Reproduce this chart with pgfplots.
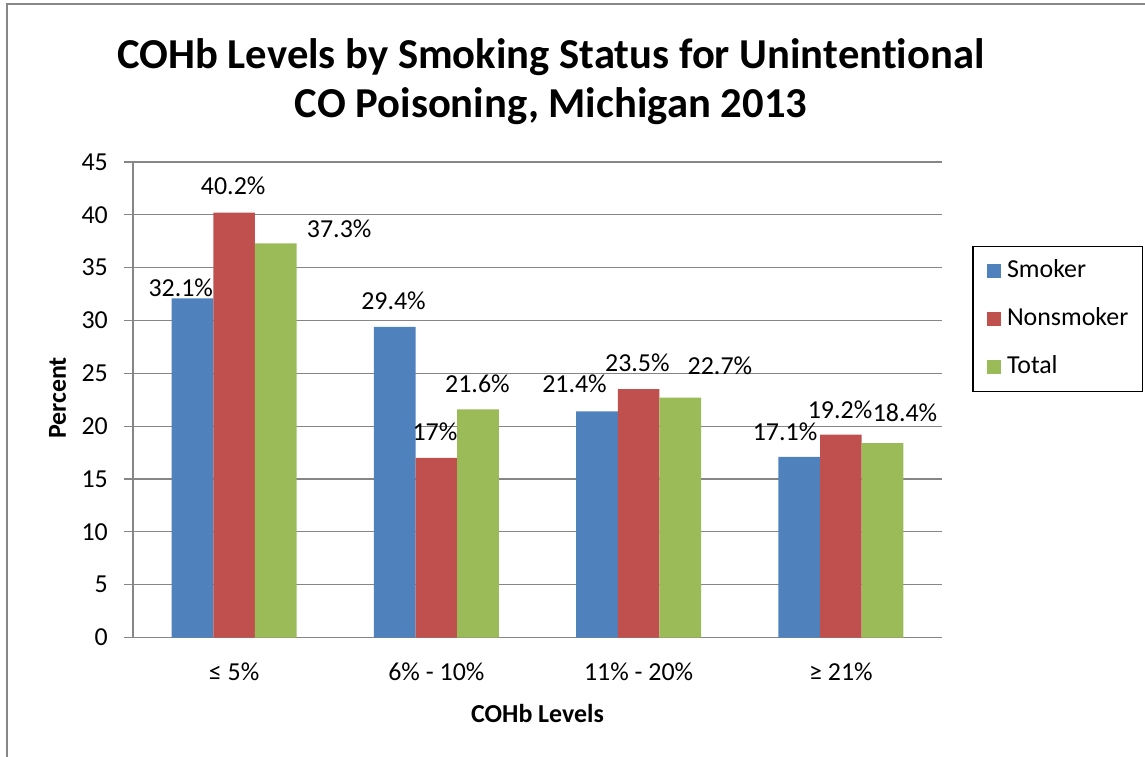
\documentclass[border=0pt]{standalone}
\usepackage{pgfplots}
\pgfplotsset{compat=1.18}
\usepackage{fontspec}
\setmainfont[Ligatures=NoCommon]{Carlito}
\definecolor{cblue}{HTML}{4F81BD}
\definecolor{cred}{HTML}{C0504D}
\definecolor{cgreen}{HTML}{9BBB59}
\definecolor{cgrid}{HTML}{868686}
\definecolor{cframe}{HTML}{878787}
\newcommand{\lbl}{\fontsize{26}{30}\selectfont}
\begin{document}
\begin{tikzpicture}
\useasboundingbox (0,0) rectangle (1145bp,-757bp);
\draw[cframe, line width=2bp] (7bp,-770bp) -- (7bp,-4bp) -- (1160bp,-4bp);
\node[font=\fontsize{42.8}{49}\selectfont\bfseries, anchor=base, inner sep=0pt] at (551bp,-68bp) {COHb Levels by Smoking Status for Unint\kern0pt ent\kern0pt ional};
\node[font=\fontsize{42.8}{49}\selectfont\bfseries, anchor=base, inner sep=0pt] at (551bp,-117bp) {CO Poisoning, Michigan 2013};
\begin{axis}[
  at={(133bp,-637.5bp)}, anchor=south west,
  width=809bp, height=475.5bp, scale only axis,
  xmin=-0.5, xmax=3.5, ymin=0, ymax=45,
  ybar=0pt, bar width=41.7bp,
  axis x line*=bottom, axis y line*=left,
  axis line style={cgrid, line width=1.2bp},
  ymajorgrids, grid style={cgrid, line width=1.2bp},
  xtick={0,1,2,3},
  xticklabels={≤ 5\%, 6\% - 10\%, 11\% - 20\%, ≥ 21\%},
  xtick style={draw=none},
  ytick={0,5,...,45},
  tick align=outside, major tick length=9bp,
  ytick style={cgrid, line width=1.2bp},
  tick label style={font=\lbl},
  /pgf/number format/assume math mode=true,
  yticklabel style={anchor=east, inner sep=0bp, xshift=-16bp},
  xticklabel style={anchor=center, yshift=-25bp},
  xlabel={COHb Levels}, ylabel={Percent},
  label style={font=\lbl\bfseries},
  xlabel style={at={(axis description cs:0.5,-0.1588)}, anchor=center},
  ylabel style={at={(axis description cs:-0.0933,0.5037)}, anchor=center},
  legend style={at={(1.0374,0.824)}, anchor=north west, draw=black, line width=1.5bp,
    font=\lbl, inner xsep=14bp, inner ysep=12.5bp, row sep=24bp,
    nodes={inner sep=0bp, text height=18.5bp, text depth=5.5bp},
    /tikz/every odd column/.append style={column sep=6bp}},
  legend cell align=left,
  legend image code/.code={\fill[#1] (0bp,-7bp) rectangle (14bp,7bp);},
]
\addplot[fill=cblue, draw=none] coordinates {(0,32.1) (1,29.4) (2,21.4) (3,17.1)};
\addplot[fill=cred, draw=none] coordinates {(0,40.2) (1,17) (2,23.5) (3,19.2)};
\addplot[fill=cgreen, draw=none] coordinates {(0,37.3) (1,21.6) (2,22.7) (3,18.4)};
\legend{Smoker,Nonsmoker,Total}
\node[font=\lbl] at (axis cs:-0.2637,33.12) {32.1\%};
\node[font=\lbl] at (axis cs:-0.0046,42.75) {40.2\%};
\node[font=\lbl] at (axis cs:0.5195,38.68) {37.3\%};
\node[font=\lbl] at (axis cs:0.788,31.87) {29.4\%};
\node[font=\lbl] at (axis cs:0.993,19.48) {17\%};
\node[font=\lbl] at (axis cs:1.203,23.99) {21.6\%};
\node[font=\lbl] at (axis cs:1.683,23.99) {21.4\%};
\node[font=\lbl] at (axis cs:1.994,25.98) {23.5\%};
\node[font=\lbl] at (axis cs:2.402,25.69) {22.7\%};
\node[font=\lbl] at (axis cs:2.724,19.45) {17.1\%};
\node[font=\lbl] at (axis cs:2.996,21.53) {19.2\%};
\node[font=\lbl] at (axis cs:3.317,21.25) {18.4\%};
\end{axis}
\end{tikzpicture}
\end{document}
